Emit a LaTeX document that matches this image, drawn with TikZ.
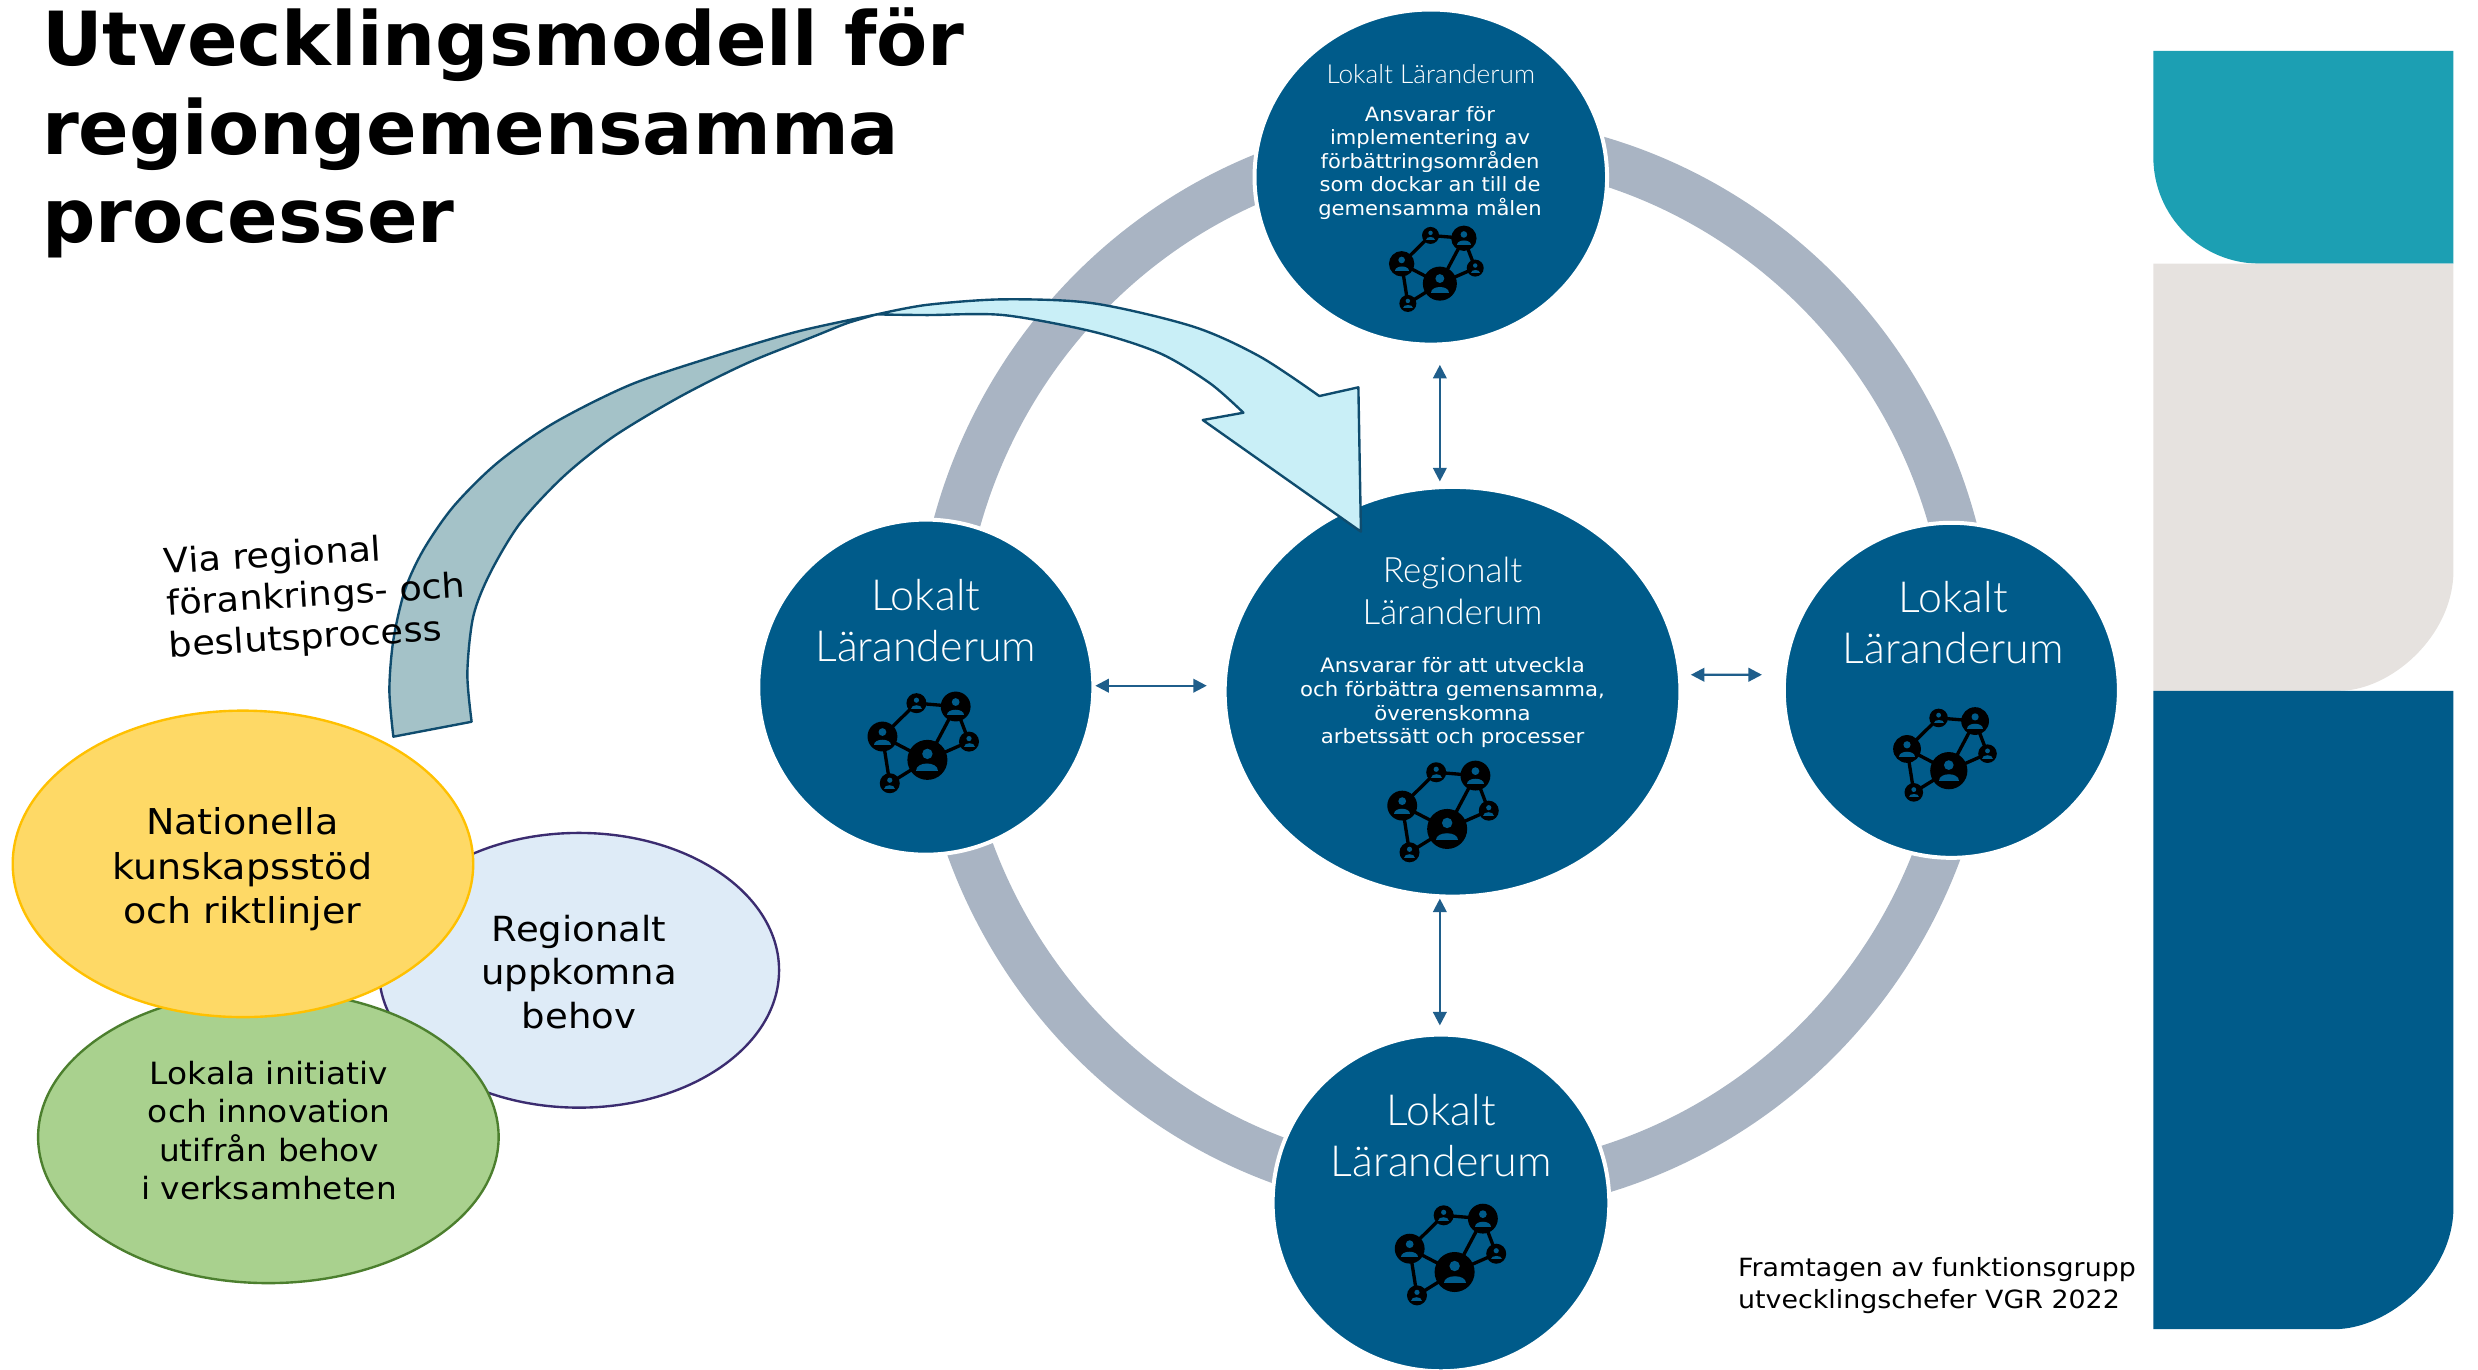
\documentclass[tikz,border=0pt]{standalone}
\usepackage{fontspec}
\setmainfont{DejaVu Sans}
\newfontfamily\bodyfont{DejaVu Sans}[FakeStretch=1.07]
\newfontfamily\lightfont{Lato Light}
\usetikzlibrary{shapes.geometric,arrows.meta,calc}

\definecolor{lrblue}{HTML}{005B8A}
\definecolor{ringgray}{HTML}{A9B4C3}
\definecolor{arrblue}{HTML}{1F5E8B}
\definecolor{bandline}{HTML}{0F4C6E}
\definecolor{darkband}{HTML}{A4C2C8}
\definecolor{lightband}{HTML}{C9EFF7}
\definecolor{natfill}{HTML}{FED966}
\definecolor{natline}{HTML}{FFC000}
\definecolor{regfill}{HTML}{DEEBF7}
\definecolor{regline}{HTML}{3B2C70}
\definecolor{lokfill}{HTML}{A9D18E}
\definecolor{lokline}{HTML}{4C7F2E}
\definecolor{tealbar}{HTML}{1C9FB3}
\definecolor{graybar}{HTML}{E6E2DF}

\tikzset{
  netw/.pic={
    \draw[line width=2.1pt] (-6.9,-35.7) -- (17.8,-33.6) -- (0,0) -- (-28.3,-14.7) -- cycle;
    \draw[line width=2.1pt] (17.8,-33.6) -- (26.2,-11.5) -- (0,0) -- (-23.7,14.7) -- (-28.3,-14.7);
    \foreach \px/\py/\pr in {-6.9/-35.7/6.3, 17.8/-33.6/9.4, -28.3/-14.7/9.4, 0/0/12.6, 26.2/-11.5/6.3, -23.7/14.7/6.3}{
      \fill (\px,\py) circle[radius=\pr];
      \fill[lrblue] (\px,\py-0.3*\pr) circle[radius=0.26*\pr];
      \fill[lrblue] (\px-0.55*\pr,\py+0.55*\pr) .. controls (\px-0.55*\pr,\py+0.08*\pr) and (\px+0.55*\pr,\py+0.08*\pr) .. (\px+0.55*\pr,\py+0.55*\pr) -- cycle;
    }
  }
}

\begin{document}
\begin{tikzpicture}[x=1pt, y=-1pt,
    room/.style={ellipse, fill=lrblue, draw=white, line width=2.5pt, inner sep=0pt},
    roomname/.style={text=white, font=\lightfont\fontsize{27}{32}\selectfont, align=center, anchor=base},
    roomtext/.style={text=white, font=\bodyfont\fontsize{12.5}{15}\selectfont, align=center, anchor=base},
    link/.style={{Triangle[length=8.5pt,width=8.5pt]}-{Triangle[length=8.5pt,width=8.5pt]}, draw=arrblue, fill=arrblue, line width=1.4pt},
    blob/.style={ellipse, inner sep=0pt, line width=1.5pt},
    blobtext/.style={font=\bodyfont\fontsize{22.4}{28}\selectfont, align=center, anchor=base}]
    \useasboundingbox (0,0) rectangle (1560.45,862.1);

    % Ring
    \draw[ringgray, line width=29.5pt] (916,419) ellipse [x radius=325.5, y radius=331.5];

    % Rooms
    \node[room, minimum width=222pt, minimum height=211pt] (ltop) at (901,111.5) {};
    \node[room, minimum width=287pt, minimum height=258pt] (reg) at (914.7,435.6) {};
    \node[room, minimum width=211pt, minimum height=211pt] (lleft) at (583,432.7) {};
    \node[room, minimum width=211pt, minimum height=211pt] (lright) at (1228.8,434.7) {};
    \node[room, minimum width=212pt, minimum height=212pt] (lbottom) at (907.4,757.5) {};

    \node[roomname, font=\lightfont\fontsize{16.5}{20}\selectfont] (ntop) at (901,52.5) {Lokalt Läranderum};
    \node[roomtext, font=\bodyfont\fontsize{12.4}{14.7}\selectfont] (ttop) at (900.5,135.4) {Ansvarar för\\implementering av\\förbättringsområden\\som dockar an till de\\gemensamma målen};
    \node[roomname, font=\lightfont\fontsize{22}{26.3}\selectfont] (nreg) at (914.7,393) {Regionalt\\Läranderum};
    \node[roomtext] (treg) at (914.7,468.4) {Ansvarar för att utveckla\\och förbättra gemensamma,\\överenskomna\\arbetssätt och processer};
    \node[roomname] (nleft) at (583,416.7) {Lokalt\\Läranderum};
    \node[roomname] (nright) at (1230,418) {Lokalt\\Läranderum};
    \node[roomname] (nbottom) at (907.6,740.8) {Lokalt\\Läranderum};

    % Icons
    \pic[scale=0.85] at (906.7,178.6) {netw};
    \pic at (911.3,522) {netw};
    \pic at (584,478.5) {netw};
    \pic[scale=0.93] at (1227.2,485.3) {netw};
    \pic at (916,801) {netw};

    % Links
    \draw[link, shorten <=11.5pt, shorten >=2.2pt] ([xshift=5.7pt]ltop.south) -- ([xshift=-8pt]reg.north);
    \draw[link, shorten >=10pt] ([yshift=0.9pt]lleft.east) -- ([yshift=3.8pt]reg.west);
    \draw[link, shorten <=5.3pt, shorten >=12.5pt] ([yshift=10.7pt]reg.east) -- ([yshift=9.8pt]lright.west);
    \draw[link, shorten >=4.5pt] ([xshift=-8pt]reg.south) -- ([xshift=-0.7pt]lbottom.north);

    % Curved arrow
    \filldraw[fill=darkband, draw=bandline, line width=1.5pt, line join=round]
      (247.7,463.9) -- plot[smooth] coordinates {(247.7,463.9) (245.2,434.5) (247.7,403) (255,371.5) (266.6,346.3) (285.5,319) (312.8,291.8) (348.4,266.6) (396.7,242.4) (449.2,224.6) (501.7,208.9) (552,198)}
      -- plot[smooth] coordinates {(552,198) (533.2,203.6) (512.2,212) (470.2,228.8) (428.2,249.8) (386.2,275) (354.7,300.2) (327.5,329.5) (308.6,361) (298,388.3) (294.3,424) (297,454.5)} -- cycle;
    \filldraw[fill=lightband, draw=bandline, line width=1.5pt, line join=round]
      plot[smooth] coordinates {(552,198) (583.5,192) (631.8,188.5) (688.5,191) (751.5,205.7) (793.5,224.6) (830.8,249.4)}
      -- (855.4,243.9) -- (857,334.8) -- (757.4,264.5)
      -- plot[smooth] coordinates {(783,259.9) (762,241.4) (730.5,222.5) (688.5,208.9) (631.8,198.4) (583.5,198.4) (552,198)} -- cycle;
    \node[anchor=base west, align=left, rotate=3.5, font=\bodyfont\fontsize{21.6}{26.3}\selectfont] (via) at (103.5,414) {Via regional\\förankrings- och\\beslutsprocess};

    % Sources
    \node[blob, fill=regfill, draw=regline, minimum width=252pt, minimum height=173pt] (regbehov) at (364.6,611) {};
    \node[blob, fill=lokfill, draw=lokline, minimum width=290pt, minimum height=184pt] (lokinit) at (169,716) {};
    \node[blob, fill=natfill, draw=natline, minimum width=290pt, minimum height=193pt] (natstod) at (153,544) {};
    \node[blobtext] at (152.6,581.8) {Nationella\\kunskapsstöd\\och riktlinjer};
    \node[blobtext, font=\bodyfont\fontsize{21.8}{27.5}\selectfont] at (364.7,647.6) {Regionalt\\uppkomna\\behov};
    \node[blobtext, font=\bodyfont\fontsize{19.3}{24.1}\selectfont] at (169.5,755.3) {Lokala initiativ\\och innovation\\utifrån behov\\i verksamheten};

    % Title
    \node[anchor=base west, align=left, font=\fontsize{47}{56}\selectfont\bfseries] (title) at (23,153) {Utvecklingsmodell för\\regiongemensamma\\processer};

    % Side bars
    \fill[tealbar] (1356,32) -- (1545,32) -- (1545,166) -- (1423,166) .. controls (1386,166) and (1356,136) .. (1356,99) -- cycle;
    \fill[graybar] (1356,166) -- (1545,166) -- (1545,359) .. controls (1545,401) and (1505,435) .. (1473,435) -- (1356,435) -- cycle;
    \fill[lrblue] (1356,435) -- (1545,435) -- (1545,760) .. controls (1545,802.5) and (1504,837) .. (1470,837) -- (1356,837) -- cycle;

    % Credit
    \node[anchor=base west, align=left, font=\bodyfont\fontsize{15.8}{20}\selectfont] (credit) at (1091,824) {Framtagen av funktionsgrupp\\utvecklingschefer VGR 2022};
\end{tikzpicture}
\end{document}
